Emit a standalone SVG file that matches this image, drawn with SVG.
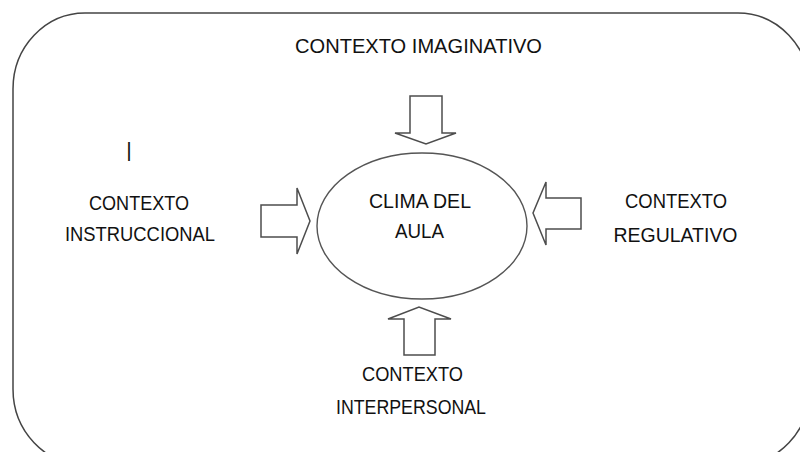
<svg xmlns="http://www.w3.org/2000/svg" width="800" height="452" viewBox="0 0 800 452">
  <style>
    .lbl { font-family: "Liberation Sans", Arial, sans-serif; font-size: 21px; fill: #111; text-anchor: middle; }
    .blk { fill: #ffffff; stroke: #4d4d4d; stroke-width: 1.5; stroke-linejoin: miter; }
  </style>
  <rect width="800" height="452" fill="#ffffff"/>
  <g id="frame">
    <rect x="13" y="13" width="797" height="452" rx="72" ry="76" fill="none" stroke="#444444" stroke-width="1.5"/>
  </g>
  <g id="clima">
    <ellipse cx="422" cy="226" rx="105" ry="73" fill="#ffffff" stroke="#555555" stroke-width="1.4"/>
    <text class="lbl" x="420" y="208" textLength="102" lengthAdjust="spacingAndGlyphs">CLIMA DEL</text>
    <text class="lbl" x="419.5" y="238" textLength="49" lengthAdjust="spacingAndGlyphs">AULA</text>
  </g>
  <g id="imaginativo">
    <text class="lbl" x="418.5" y="53" textLength="247" lengthAdjust="spacingAndGlyphs">CONTEXTO IMAGINATIVO</text>
  </g>
  <g id="instruccional">
    <text class="lbl" x="129" y="157" font-size="32" fill="#000">|</text>
    <text class="lbl" x="139" y="210" textLength="100" lengthAdjust="spacingAndGlyphs">CONTEXTO</text>
    <text class="lbl" x="140" y="241" textLength="150" lengthAdjust="spacingAndGlyphs">INSTRUCCIONAL</text>
  </g>
  <g id="regulativo">
    <text class="lbl" x="676" y="208" textLength="102" lengthAdjust="spacingAndGlyphs">CONTEXTO</text>
    <text class="lbl" x="675.5" y="242" textLength="124" lengthAdjust="spacingAndGlyphs">REGULATIVO</text>
  </g>
  <g id="interpersonal">
    <text class="lbl" x="412.5" y="381" textLength="101" lengthAdjust="spacingAndGlyphs">CONTEXTO</text>
    <text class="lbl" x="411" y="414" textLength="150" lengthAdjust="spacingAndGlyphs">INTERPERSONAL</text>
  </g>
  <g id="connectors">
    <polygon class="blk" points="410,96 442,96 442,133 456,133 426,144 395,133 410,133"/>
    <polygon class="blk" points="261,205 297,205 297,188 310,221 297,254 297,237 261,237"/>
    <polygon class="blk" points="581,198 546,198 546,182 533,213 546,245 546,229 581,229"/>
    <polygon class="blk" points="404,355 435,355 435,319 451,319 419,307 388,319 404,319"/>
  </g>
</svg>
